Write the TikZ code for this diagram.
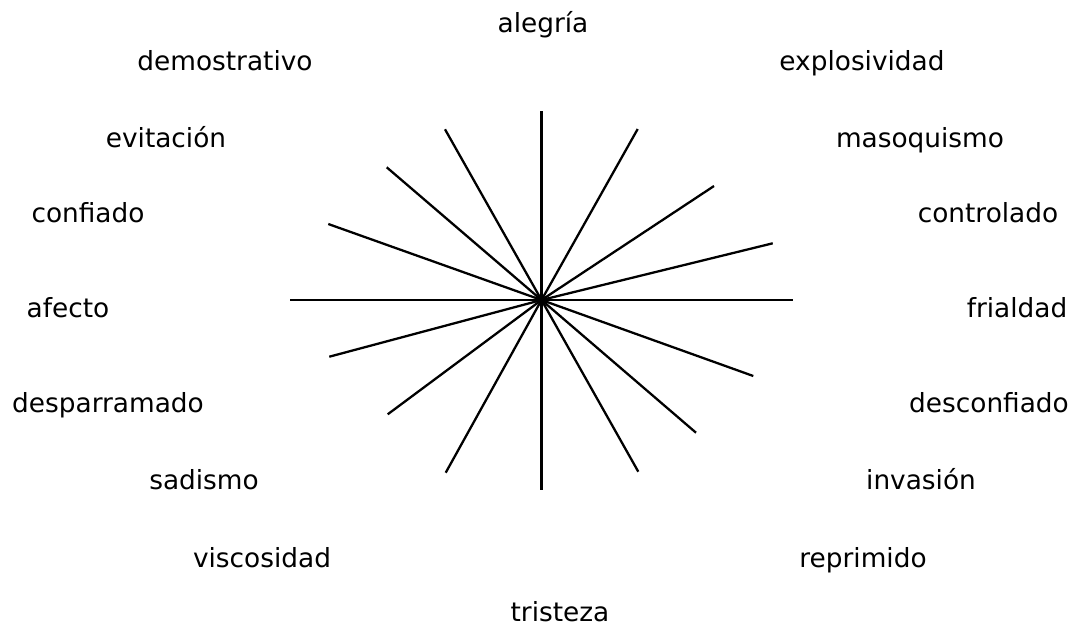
\documentclass[tikz,border=0pt]{standalone}
\usepackage{fontspec}
\setmainfont{DejaVu Sans}
\usepackage{tikz}

\begin{document}
\begin{tikzpicture}[x=0.02cm, y=-0.02cm, every node/.style={anchor=base, inner sep=0pt, font=\fontsize{15}{18}\selectfont}, spoke/.style={line width=1.3pt}]
  \useasboundingbox (0,0) rectangle (1075,627);

  \node (alegria) at (543,32) {alegría};
  \node (demostrativo) at (225,70) {demostrativo};
  \node (explosividad) at (862,70) {explosividad};
  \node (evitacion) at (166,147) {evitación};
  \node (masoquismo) at (920,147) {masoquismo};
  \node (confiado) at (88,222) {confiado};
  \node (controlado) at (988,222) {controlado};
  \node (afecto) at (68,317) {afecto};
  \node (frialdad) at (1017,317) {frialdad};
  \node (desparramado) at (108,412) {desparramado};
  \node (desconfiado) at (989,412) {desconfiado};
  \node (sadismo) at (204,489) {sadismo};
  \node (invasion) at (921,489) {invasión};
  \node (viscosidad) at (262,567) {viscosidad};
  \node (reprimido) at (863,567) {reprimido};
  \node (tristeza) at (560,621) {tristeza};

  \coordinate (c) at (541.5,300);
  \coordinate (n) at (541.5,111);
  \coordinate (s) at (541.5,490);
  \coordinate (w) at (290,300);
  \coordinate (e) at (793,300);
  \coordinate (nne) at (637.7,129);
  \coordinate (ne) at (714,186);
  \coordinate (ene) at (772.7,243.3);
  \coordinate (ese) at (753.3,376);
  \coordinate (se) at (696,432.7);
  \coordinate (sse) at (638.3,471.7);
  \coordinate (ssw) at (445.7,472.7);
  \coordinate (sw) at (387.7,414.3);
  \coordinate (wsw) at (329.3,356.7);
  \coordinate (wnw) at (328.3,224);
  \coordinate (nw) at (386.7,167.3);
  \coordinate (nnw) at (445,129.3);

  \draw[spoke] (c) -- (n);
  \draw[spoke] (c) -- (s);
  \draw[spoke] (c) -- (w);
  \draw[spoke] (c) -- (e);
  \draw[spoke] (c) -- (nne);
  \draw[spoke] (c) -- (ne);
  \draw[spoke] (c) -- (ene);
  \draw[spoke] (c) -- (ese);
  \draw[spoke] (c) -- (se);
  \draw[spoke] (c) -- (sse);
  \draw[spoke] (c) -- (ssw);
  \draw[spoke] (c) -- (sw);
  \draw[spoke] (c) -- (wsw);
  \draw[spoke] (c) -- (wnw);
  \draw[spoke] (c) -- (nw);
  \draw[spoke] (c) -- (nnw);
\end{tikzpicture}
\end{document}
